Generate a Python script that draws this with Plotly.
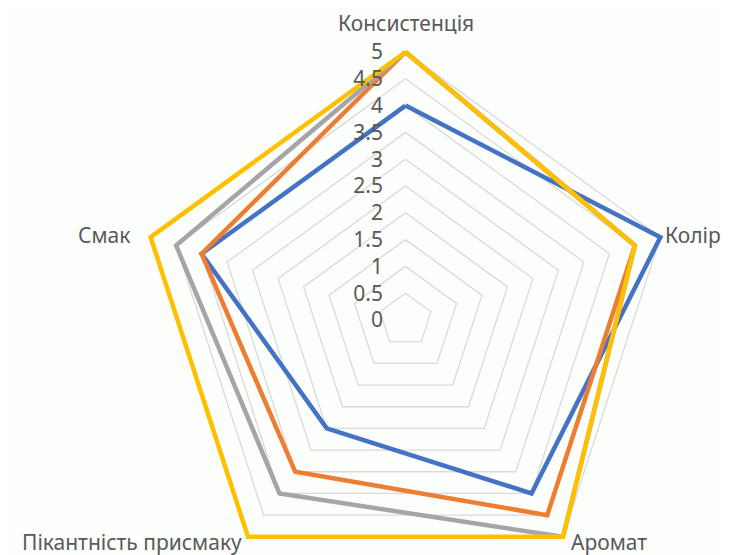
import numpy as np
import plotly.graph_objects as go

# ---- data ----
categories = ["Консистенція", "Колір", "Аромат", "Пікантність присмаку", "Смак"]
series_names = ["Ряд1", "Ряд2", "Ряд3", "Ряд4"]
series_1 = [4, 5, 4, 2.5, 4]
series_2 = [5, 4.5, 4.5, 3.5, 4]
series_3 = [5, 4.5, 5, 4, 4.5]
series_4 = [5, 4.5, 5, 5, 5]
tick_values = [0, 0.5, 1, 1.5, 2, 2.5, 3, 3.5, 4, 4.5, 5]
tick_labels = ["0", "0.5", "1", "1.5", "2", "2.5", "3", "3.5", "4", "4.5", "5"]
VMAX = 5

# ---- style / geometry ----
W, H = 730, 555
OFF = 8                                  # page (body) margin offset
CX, CY = 405.5 - OFF, 320.0 - OFF        # centre of the radar, px from left / top of figure
K = 268.0 / VMAX                         # px per value unit
colors = ["#4472C4", "#ED7D31", "#A5A5A5", "#FFC000"]
grid_color = "#d9d9d9"
text_color = "#595959"
FONT = "Noto Sans"
FS = 21

n = len(categories)
ang = np.deg2rad(90 - 360.0 / n * np.arange(n))   # clockwise from top


def radar_xy(values):
    v = np.asarray(values, dtype=float)
    v = np.append(v, v[0])
    a = np.append(ang, ang[0])
    return v * np.cos(a), v * np.sin(a)


fig = go.Figure()

# grid pentagons
for lvl in tick_values[1:]:
    gx, gy = radar_xy([lvl] * n)
    fig.add_trace(go.Scatter(x=gx, y=gy, mode="lines",
                             line=dict(color=grid_color, width=1.3),
                             hoverinfo="skip", showlegend=False))

# data series
for name, vals, col in zip(series_names, [series_1, series_2, series_3, series_4], colors):
    sx, sy = radar_xy(vals)
    fig.add_trace(go.Scatter(x=sx, y=sy, mode="lines", name=name,
                             line=dict(color=col, width=4.5), showlegend=False))

# category labels (anchored at the outer vertices)
lab_anchor = [("center", "bottom", 0, 13), ("left", "middle", 3, 2), ("left", "top", 6, 11),
              ("right", "top", -4, 11), ("right", "middle", -19, 2)]
for cat, a, (xa, ya, xs, ys) in zip(categories, ang, lab_anchor):
    fig.add_annotation(x=VMAX * np.cos(a), y=VMAX * np.sin(a), xref="x", yref="y",
                       text=cat, showarrow=False, xanchor=xa, yanchor=ya,
                       xshift=xs, yshift=ys,
                       font=dict(family=FONT, size=FS, color=text_color))

fig.update_layout(
    template="none",
    width=W, height=H,
    margin=dict(l=0, r=0, t=0, b=0),
    paper_bgcolor="#fbfefb", plot_bgcolor="rgba(0,0,0,0)",
    showlegend=False,
    xaxis=dict(visible=False, domain=[0, 1], range=[-CX / K, (W - CX) / K],
               fixedrange=True, automargin=False),
    yaxis=dict(
        domain=[0, 1], range=[-(H - CY) / K, CY / K],
        tickvals=tick_values, ticktext=tick_labels,
        anchor="free", position=(380 - OFF + 3) / W,
        showgrid=False, zeroline=False, showline=False, ticks="",
        tickfont=dict(family=FONT, size=FS, color=text_color),
        fixedrange=True, automargin=False,
    ),
)

fig.write_html("out.html")
